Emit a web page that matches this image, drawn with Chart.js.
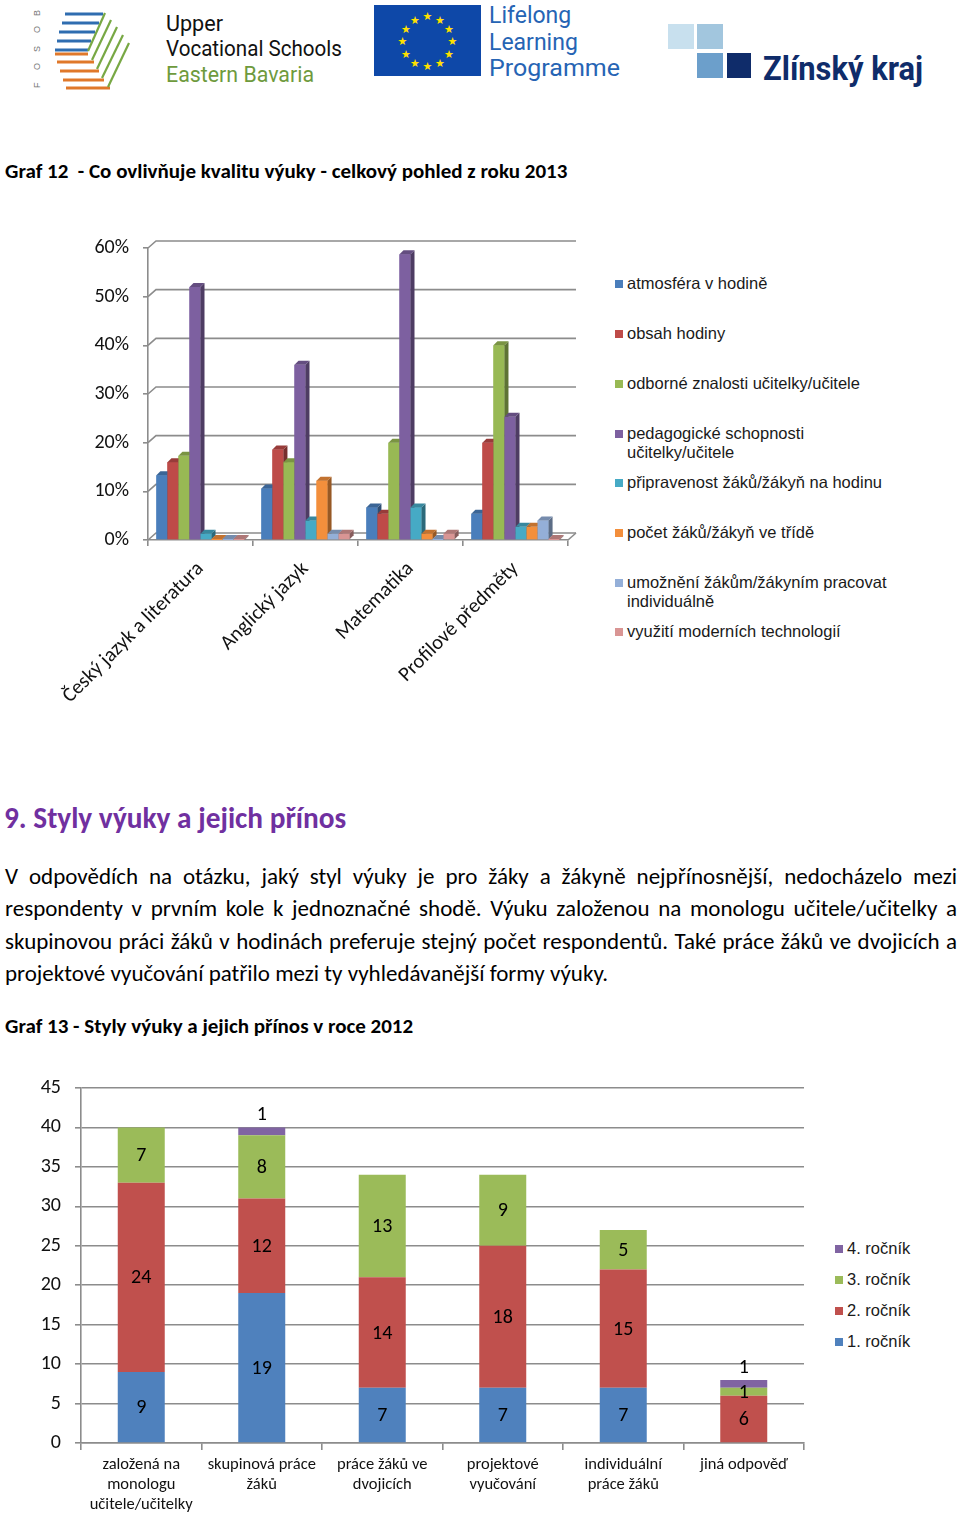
<!DOCTYPE html>
<html lang="cs">
<head>
<meta charset="utf-8">
<script src="https://cdn.jsdelivr.net/npm/chart.js@4.4.1/dist/chart.umd.min.js"></script>
<style>
  html,body{margin:0;padding:0;background:#fff;}
  body{width:960px;height:1516px;position:relative;overflow:hidden;font-family:Carlito, Lato, "Open Sans", sans-serif;color:#000;}
  .abs{position:absolute;}
  .title{font-weight:bold;font-size:21px;line-height:24px;white-space:nowrap;}
  .heading{font-weight:bold;font-size:29.3px;line-height:34px;color:#7030A0;white-space:nowrap;}
  .para{left:5px;top:860px;width:952px;font-size:23px;line-height:32.4px;}
  .para div{white-space:nowrap;text-align:justify;text-align-last:justify;}
  .para div.last{text-align-last:left;}
  .leg{font-family:"Liberation Sans", Arial, sans-serif;font-size:16.5px;color:#1a1a1a;line-height:19px;}
  .leg .it{position:absolute;left:0;white-space:nowrap;}
  .leg .sw{position:absolute;left:0;top:6px;width:8px;height:8px;}
  .leg .tx{position:absolute;left:12px;top:0;}
</style>
</head>
<body>

<!-- header logos -->
<svg class="abs" style="left:0;top:0" width="960" height="100" xmlns="http://www.w3.org/2000/svg">
  <g stroke-width="3" fill="none">
    <g stroke="#2F6DB0">
      <line x1="65" y1="14" x2="103" y2="14"/>
      <line x1="62" y1="23" x2="99" y2="23"/>
      <line x1="59" y1="32" x2="95" y2="32"/>
      <line x1="57" y1="41" x2="91" y2="41"/>
      <line x1="55" y1="50" x2="88" y2="50"/>
    </g>
    <g stroke="#E0782A">
      <line x1="55" y1="54" x2="88" y2="54"/>
      <line x1="57" y1="62" x2="94" y2="62"/>
      <line x1="60" y1="71" x2="99" y2="71"/>
      <line x1="63" y1="80" x2="104" y2="80"/>
      <line x1="66" y1="88" x2="110" y2="88"/>
    </g>
    <g stroke="#78A844" stroke-width="2.2">
      <line x1="105" y1="13" x2="88" y2="51"/>
      <line x1="111" y1="20" x2="92" y2="60"/>
      <line x1="117" y1="27" x2="97" y2="69"/>
      <line x1="123" y1="35" x2="102" y2="78"/>
      <line x1="129" y1="43" x2="108" y2="87"/>
    </g>
  </g>
  <g font-family="Liberation Sans, Arial" font-size="9" fill="#777">
    <text transform="translate(40,88) rotate(-90)">F</text>
    <text transform="translate(40,70) rotate(-90)">O</text>
    <text transform="translate(40,52) rotate(-90)">S</text>
    <text transform="translate(40,33) rotate(-90)">O</text>
    <text transform="translate(40,16) rotate(-90)">B</text>
  </g>
  <g font-family="Liberation Sans Narrow, Roboto, Liberation Sans" font-size="22">
    <text x="166" y="31" fill="#111" textLength="57" lengthAdjust="spacingAndGlyphs">Upper</text>
    <text x="166" y="56" fill="#111" textLength="176" lengthAdjust="spacingAndGlyphs">Vocational Schools</text>
    <text x="166" y="82" fill="#6E9A3D" textLength="148" lengthAdjust="spacingAndGlyphs">Eastern Bavaria</text>
  </g>
  <rect x="374" y="5" width="107" height="71" fill="#0E48A8"/>
  <g fill="#FFE000" font-size="11" font-family="DejaVu Sans" text-anchor="middle">
    <text x="427.5" y="20">★</text>
    <text x="440" y="23.5">★</text>
    <text x="449" y="32.5">★</text>
    <text x="452.5" y="45">★</text>
    <text x="449" y="57.5">★</text>
    <text x="440" y="66.5">★</text>
    <text x="427.5" y="70">★</text>
    <text x="415" y="66.5">★</text>
    <text x="406" y="57.5">★</text>
    <text x="402.5" y="45">★</text>
    <text x="406" y="32.5">★</text>
    <text x="415" y="23.5">★</text>
  </g>
  <g font-family="Roboto, Liberation Sans" font-size="23" fill="#2664B4">
    <text x="489" y="23">Lifelong</text>
    <text x="489" y="50">Learning</text>
    <text x="489" y="76" textLength="131" lengthAdjust="spacingAndGlyphs">Programme</text>
  </g>
  <rect x="668" y="24" width="26" height="25" fill="#C8E0EE"/>
  <rect x="697" y="24" width="26" height="25" fill="#A2C6DE"/>
  <rect x="697" y="53" width="26" height="25" fill="#6C9FCB"/>
  <rect x="727" y="53" width="24" height="25" fill="#0F2C6A"/>
  <text x="763" y="80" font-family="Liberation Sans Narrow, Roboto, Liberation Sans" font-weight="bold" font-size="34" fill="#0F2C6A" textLength="160" lengthAdjust="spacingAndGlyphs">Zlínský kraj</text>
</svg>

<div class="abs title" style="left:5px;top:159px;">Graf 12&nbsp; - Co ovlivňuje kvalitu výuky - celkový pohled z roku 2013</div>

<canvas id="c12" class="abs" style="left:0;top:222px;" width="600" height="503"></canvas>
<div id="leg12" class="abs leg" style="left:615px;top:0;width:345px;height:700px;"></div>

<div class="abs heading" style="left:4px;top:801px;">9. Styly výuky a jejich přínos</div>

<div class="abs para">
  <div>V odpovědích na otázku, jaký styl výuky je pro žáky a žákyně nejpřínosnější, nedocházelo mezi</div>
  <div>respondenty v prvním kole k jednoznačné shodě. Výuku založenou na monologu učitele/učitelky a</div>
  <div>skupinovou práci žáků v hodinách preferuje stejný počet respondentů. Také práce žáků ve dvojicích a</div>
  <div class="last">projektové vyučování patřilo mezi ty vyhledávanější formy výuky.</div>
</div>

<div class="abs title" style="left:5px;top:1014px;">Graf 13 - Styly výuky a jejich přínos v roce 2012</div>

<canvas id="c13" class="abs" style="left:0;top:1062px;" width="820" height="454"></canvas>
<div id="leg13" class="abs leg" style="left:835px;top:0;width:125px;height:1516px;"></div>

<script>
// ---------- Graf 12 data ----------
const subjects = ['Český jazyk a literatura', 'Anglický jazyk', 'Matematika', 'Profilové předměty'];
const factorNames = [
  'atmosféra v hodině',
  'obsah hodiny',
  'odborné znalosti učitelky/učitele',
  'pedagogické schopnosti učitelky/učitele',
  'připravenost žáků/žákyň na hodinu',
  'počet žáků/žákyň ve třídě',
  'umožnění žákům/žákyním pracovat individuálně',
  'využití moderních technologií'
];
const atmosfera     = [13.3, 10.6, 6.7, 5.4];
const obsah         = [16.0, 18.6, 5.4, 20.0];
const odborne       = [17.3, 16.0, 20.0, 40.0];
const pedagogicke   = [52.0, 36.0, 58.7, 25.3];
const pripravenost  = [1.3, 4.0, 6.7, 2.7];
const pocet         = [0, 12.2, 1.3, 2.7];
const umozneni      = [0, 1.3, 0, 4.0];
const vyuziti       = [0, 1.3, 1.3, 0];
const pctTicks      = [0, 10, 20, 30, 40, 50, 60];

// ---------- Graf 13 data ----------
const styles = [['založená na', 'monologu', 'učitele/učitelky'], ['skupinová práce', 'žáků'], ['práce žáků ve', 'dvojicích'], ['projektové', 'vyučování'], ['individuální', 'práce žáků'], 'jiná odpověď'];
const rocnik1 = [9, 19, 7, 7, 7, 0];
const rocnik2 = [24, 12, 14, 18, 15, 6];
const rocnik3 = [7, 8, 13, 9, 5, 1];
const rocnik4 = [0, 1, 0, 0, 0, 1];
const rocnikNames = ['1. ročník', '2. ročník', '3. ročník', '4. ročník'];

const FONT = 'Carlito, Lato, "Open Sans", sans-serif';

function shade(hex, f) {
  const n = parseInt(hex.slice(1), 16);
  const r = Math.round(((n >> 16) & 255) * f), g = Math.round(((n >> 8) & 255) * f), b = Math.round((n & 255) * f);
  return 'rgb(' + r + ',' + g + ',' + b + ')';
}

// ---------- Chart 12 ----------
const colors12 = ['#4A7EBB', '#BE4B48', '#98B954', '#7D60A0', '#46AAC5', '#F38F3C', '#94AFD8', '#D99594'];
const series12 = [atmosfera, obsah, odborne, pedagogicke, pripravenost, pocet, umozneni, vyuziti];
const DX = 4, DY = -4, WX = 8, WY = -7;

const wall3d = {
  id: 'wall3d',
  beforeDatasetsDraw(chart) {
    const ctx = chart.ctx, y = chart.scales.y, a = chart.chartArea;
    ctx.save();
    ctx.strokeStyle = '#8C8C8C';
    ctx.lineWidth = 1.6;
    y.ticks.forEach(t => {
      const py = y.getPixelForValue(t.value);
      ctx.beginPath();
      ctx.moveTo(a.left, py);
      ctx.lineTo(a.left + WX, py + WY);
      ctx.lineTo(a.right + WX, py + WY);
      ctx.stroke();
    });
    ctx.beginPath();
    ctx.moveTo(a.right, a.bottom);
    ctx.lineTo(a.right + WX, a.bottom + WY);
    ctx.stroke();
    ctx.restore();
  },
  afterDatasetsDraw(chart) {
    const ctx = chart.ctx;
    ctx.save();
    chart.data.datasets.forEach((ds, i) => {
      const meta = chart.getDatasetMeta(i);
      const c = ds.backgroundColor;
      meta.data.forEach(el => {
        const p = el.getProps(['x', 'y', 'base', 'width'], true);
        const l = p.x - p.width / 2, r = p.x + p.width / 2;
        const top = Math.min(p.y, p.base - 1);
        ctx.fillStyle = c;
        ctx.fillRect(l, top, p.width, p.base - top);
        ctx.fillStyle = shade(c, 0.62);
        ctx.beginPath();
        ctx.moveTo(r, top); ctx.lineTo(r + DX, top + DY); ctx.lineTo(r + DX, p.base + DY); ctx.lineTo(r, p.base);
        ctx.closePath(); ctx.fill();
        ctx.fillStyle = shade(c, 0.8);
        ctx.beginPath();
        ctx.moveTo(l, top); ctx.lineTo(l + DX, top + DY); ctx.lineTo(r + DX, top + DY); ctx.lineTo(r, top);
        ctx.closePath(); ctx.fill();
      });
    });
    ctx.restore();
  }
};

new Chart(document.getElementById('c12'), {
  type: 'bar',
  data: {
    labels: subjects,
    datasets: series12.map((d, i) => ({
      label: factorNames[i],
      data: d,
      backgroundColor: colors12[i],
      borderWidth: 0,
      barPercentage: 1.0,
      categoryPercentage: 0.84
    }))
  },
  options: {
    responsive: false,
    animation: false,
    events: [],
    layout: { padding: { left: 0, right: 32, top: 18, bottom: 0 } },
    plugins: { legend: { display: false }, tooltip: { enabled: false } },
    scales: {
      x: {
        grid: { display: true, drawOnChartArea: false, drawTicks: true, tickLength: 6, color: '#8C8C8C', lineWidth: 1.6, offset: true },
        border: { display: true, color: '#8C8C8C', width: 1.6 },
        ticks: { color: '#111', font: { family: FONT, size: 20.5 }, minRotation: 45, maxRotation: 45, autoSkip: false, padding: 11 },
        afterFit(s) { s.height = 185; }
      },
      y: {
        min: 0, max: 60,
        afterBuildTicks(s) { s.ticks = pctTicks.map(v => ({ value: v })); },
        grid: { display: true, drawOnChartArea: false, drawTicks: true, tickLength: 5, color: '#8C8C8C', lineWidth: 1.6 },
        border: { display: true, color: '#8C8C8C', width: 1.6 },
        ticks: { color: '#111', font: { family: FONT, size: 20 }, padding: 14, callback: v => v + '%' },
        afterFit(s) { s.width = 148; }
      }
    }
  },
  plugins: [wall3d]
});

// legend 12
(function () {
  const leg = document.getElementById('leg12');
  const tops = [274, 324, 374, 424, 473, 523, 573, 622];
  const wraps = {3: ['pedagogické schopnosti', 'učitelky/učitele'], 6: ['umožnění žákům/žákyním pracovat', 'individuálně']};
  factorNames.forEach((n, i) => {
    const it = document.createElement('div');
    it.className = 'it';
    it.style.top = tops[i] + 'px';
    const sw = document.createElement('div'); sw.className = 'sw'; sw.style.background = colors12[i];
    const tx = document.createElement('div'); tx.className = 'tx';
    if (wraps[i]) { tx.innerHTML = wraps[i].join('<br>'); } else { tx.textContent = n; }
    it.appendChild(sw); it.appendChild(tx); leg.appendChild(it);
  });
})();

// ---------- Chart 13 ----------
const colors13 = ['#4F81BD', '#C0504D', '#9BBB59', '#8064A2'];
const series13 = [rocnik1, rocnik2, rocnik3, rocnik4];

const stackLabels = {
  id: 'stackLabels',
  afterDatasetsDraw(chart) {
    const ctx = chart.ctx;
    ctx.save();
    ctx.fillStyle = '#000';
    ctx.font = '20px ' + FONT;
    ctx.textAlign = 'center';
    ctx.textBaseline = 'middle';
    chart.data.datasets.forEach((ds, i) => {
      const meta = chart.getDatasetMeta(i);
      meta.data.forEach((el, j) => {
        const v = ds.data[j];
        if (!v) return;
        const p = el.getProps(['x', 'y', 'base'], true);
        let cy = (p.y + p.base) / 2;
        if (i === 3) cy = p.y - 13;
        ctx.fillText(String(v), p.x, cy + 1);
      });
    });
    ctx.restore();
  }
};

new Chart(document.getElementById('c13'), {
  type: 'bar',
  data: {
    labels: styles,
    datasets: series13.map((d, i) => ({
      label: rocnikNames[i],
      data: d,
      backgroundColor: colors13[i],
      borderWidth: 0,
      barPercentage: 0.39,
      categoryPercentage: 1.0
    }))
  },
  options: {
    responsive: false,
    animation: false,
    events: [],
    layout: { padding: { left: 0, right: 16, top: 8, bottom: 0 } },
    plugins: { legend: { display: false }, tooltip: { enabled: false } },
    scales: {
      x: {
        stacked: true,
        grid: { display: true, drawOnChartArea: false, drawTicks: true, tickLength: 7, color: '#8C8C8C', lineWidth: 1.6, offset: true },
        border: { display: true, color: '#8C8C8C', width: 1.6 },
        ticks: { color: '#111', font: { family: FONT, size: 16.5, lineHeight: 1.22 }, maxRotation: 0, autoSkip: false, padding: 5 },
        afterFit(s) { s.height = 73; }
      },
      y: {
        stacked: true,
        min: 0, max: 45,
        ticks: { stepSize: 5, color: '#111', font: { family: FONT, size: 20 }, padding: 14 },
        grid: { color: '#8C8C8C', lineWidth: 1.6, tickLength: 6 },
        border: { display: true, color: '#8C8C8C', width: 1.6 },
        afterFit(s) { s.width = 81; }
      }
    }
  },
  plugins: [stackLabels]
});

// legend 13
(function () {
  const leg = document.getElementById('leg13');
  const tops = [1239, 1270, 1301, 1332];
  [3, 2, 1, 0].forEach((k, idx) => {
    const it = document.createElement('div');
    it.className = 'it';
    it.style.top = tops[idx] + 'px';
    const sw = document.createElement('div'); sw.className = 'sw'; sw.style.background = colors13[k];
    const tx = document.createElement('div'); tx.className = 'tx'; tx.textContent = rocnikNames[k];
    it.appendChild(sw); it.appendChild(tx); leg.appendChild(it);
  });
})();
</script>
</body>
</html>
